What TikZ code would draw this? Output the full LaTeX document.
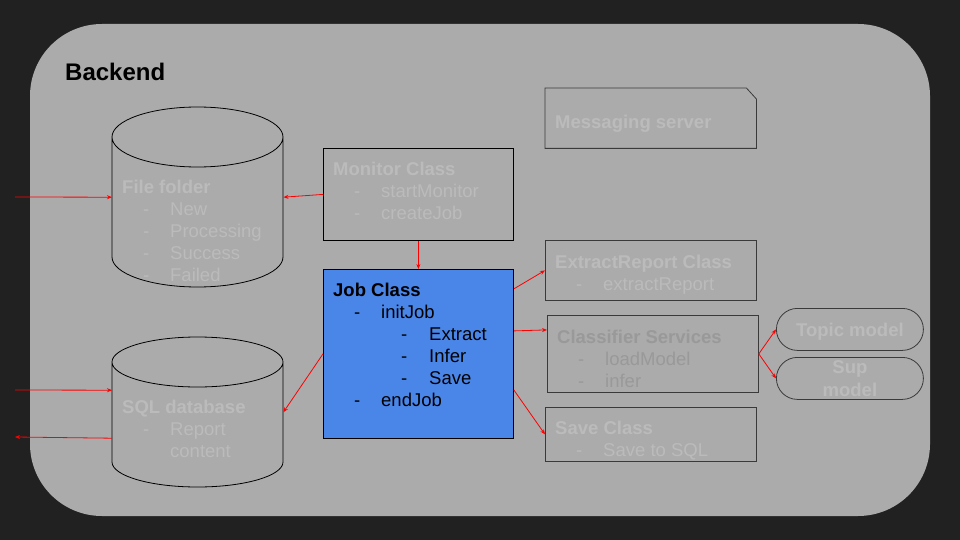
\documentclass[tikz,border=0pt]{standalone}
\usepackage{fontspec}
\setmainfont{Liberation Sans}
\usetikzlibrary{positioning}
\usetikzlibrary{arrows.meta}
\definecolor{bgdark}{HTML}{212121}
\definecolor{panel}{HTML}{ABABAB}
\definecolor{faint}{HTML}{BBBBBB}
\definecolor{dimtext}{HTML}{999999}
\definecolor{jobblue}{HTML}{4A86E8}
\definecolor{edge}{HTML}{3A3A3A}
\newcommand{\itm}[1]{\hspace*{21pt}\makebox[27pt][l]{-}#1}
\newcommand{\subitm}[1]{\hspace*{68pt}\makebox[28pt][l]{-}#1}

\begin{document}
\begin{tikzpicture}[x=1pt, y=-1pt,
  box/.style={draw=edge, line width=0.8pt, inner sep=0, anchor=north west},
  txt/.style={inner sep=0, align=left, text=faint, font=\fontsize{18.5}{22}\selectfont},
  pill/.style={box, rounded corners=21pt, minimum width=147pt, minimum height=42pt, align=center, text=faint, font=\bfseries\fontsize{18.5}{23}\selectfont},
  link/.style={red, line width=0.8pt, -{Stealth[length=5pt, width=4pt]}}]
\fill[bgdark] (0,0) rectangle (960,540);
\fill[panel, rounded corners=72pt] (30,24) rectangle (930,516);
\node[font=\bfseries\fontsize{24}{24}\selectfont, anchor=west, inner sep=0] (backend) at (65,72) {Backend};

\foreach \top/\bot/\ry in {107/287/30, 337/487/25} {
 \draw[black, line width=0.8pt, fill=panel] (112,\top+\ry) -- (112,\bot-\ry) arc[start angle=180, end angle=360, x radius=85.5pt, y radius={\ry*1pt}]
   -- (283,\top+\ry) arc[start angle=0, end angle=360, x radius=85.5pt, y radius={\ry*1pt}];
}
\node[inner sep=0, minimum width=171pt, minimum height=180pt, anchor=north west] (files) at (112,107) {};
\node[inner sep=0, minimum width=171pt, minimum height=150pt, anchor=north west] (sql) at (112,337) {};
\node[txt, below right=73pt and 10pt of files.north west] (files-txt) {\textbf{File folder}\\\itm{New}\\\itm{Processing}\\\itm{Success}\\\itm{Failed}};
\node[txt, below right=63pt and 10pt of sql.north west] (sql-txt) {\textbf{SQL database}\\\itm{Report}\\\hspace*{48pt}content};

\node[box, draw=black, minimum width=190pt, minimum height=92pt] (monitor) at (323,148) {};
\node[txt, below right=14pt and 10pt of monitor.north west] (monitor-txt) {\textbf{Monitor Class}\\\itm{startMonitor}\\\itm{createJob}};
\node[box, draw=black, fill=jobblue, minimum width=190pt, minimum height=169pt] (job) at (323,269) {};
\node[txt, text=black, below right=14pt and 10pt of job.north west] (job-txt) {\textbf{Job Class}\\\itm{initJob}\\\subitm{Extract}\\\subitm{Infer}\\\subitm{Save}\\\itm{endJob}};

\node[inner sep=0, minimum width=211pt, minimum height=60pt, anchor=north west] (msg) at (545,88) {};
\draw[edge, line width=0.8pt] (msg.north west) -- ([xshift=-10pt]msg.north east) -- ([yshift=-11pt]msg.north east) -- (msg.south east) -- (msg.south west) -- cycle;
\node[txt, anchor=west, right=10pt of msg.west, yshift=-6pt] (msg-txt) {\textbf{Messaging server}};

\node[box, minimum width=211pt, minimum height=60pt] (extract) at (545,240) {};
\node[txt, below right=15pt and 10pt of extract.north west] (extract-txt) {\textbf{ExtractReport Class}\\\itm{extractReport}};
\node[box, minimum width=211pt, minimum height=77pt] (clf) at (547,315) {};
\node[txt, text=dimtext, below right=15pt and 10pt of clf.north west] (clf-txt) {\textbf{Classifier Services}\\\itm{loadModel}\\\itm{infer}};
\node[box, minimum width=211pt, minimum height=54pt] (save) at (545,407) {};
\node[txt, below right=14pt and 10pt of save.north west] (save-txt) {\textbf{Save Class}\\\itm{Save to SQL}};

\node[pill, text depth=0pt] (topic) at (776,308) {Topic model};
\node[pill] (sup) at (776,357) {Sup\\model};

\coordinate (in1) at (15,197);
\coordinate (in2) at (15,390);
\coordinate (out2) at (15,437);
\draw[link] (in1) -- (files.west);
\draw[link] (monitor.west) -- (files.east);
\draw[link] (monitor.south) -- (job.north);
\draw[link] (job.west) -- (sql.east);
\draw[link] (in2) -- ([yshift=22pt]sql.west);
\draw[link] ([yshift=-26pt]sql.west) -- (out2);
\draw[link] ([yshift=65pt]job.east) -- (extract.west);
\draw[link] ([yshift=23pt]job.east) -- ([yshift=24pt]clf.west);
\draw[link] ([yshift=-36pt]job.east) -- (save.west);
\draw[link] (clf.east) -- (topic.west);
\draw[link] (clf.east) -- (sup.west);
\end{tikzpicture}
\end{document}
